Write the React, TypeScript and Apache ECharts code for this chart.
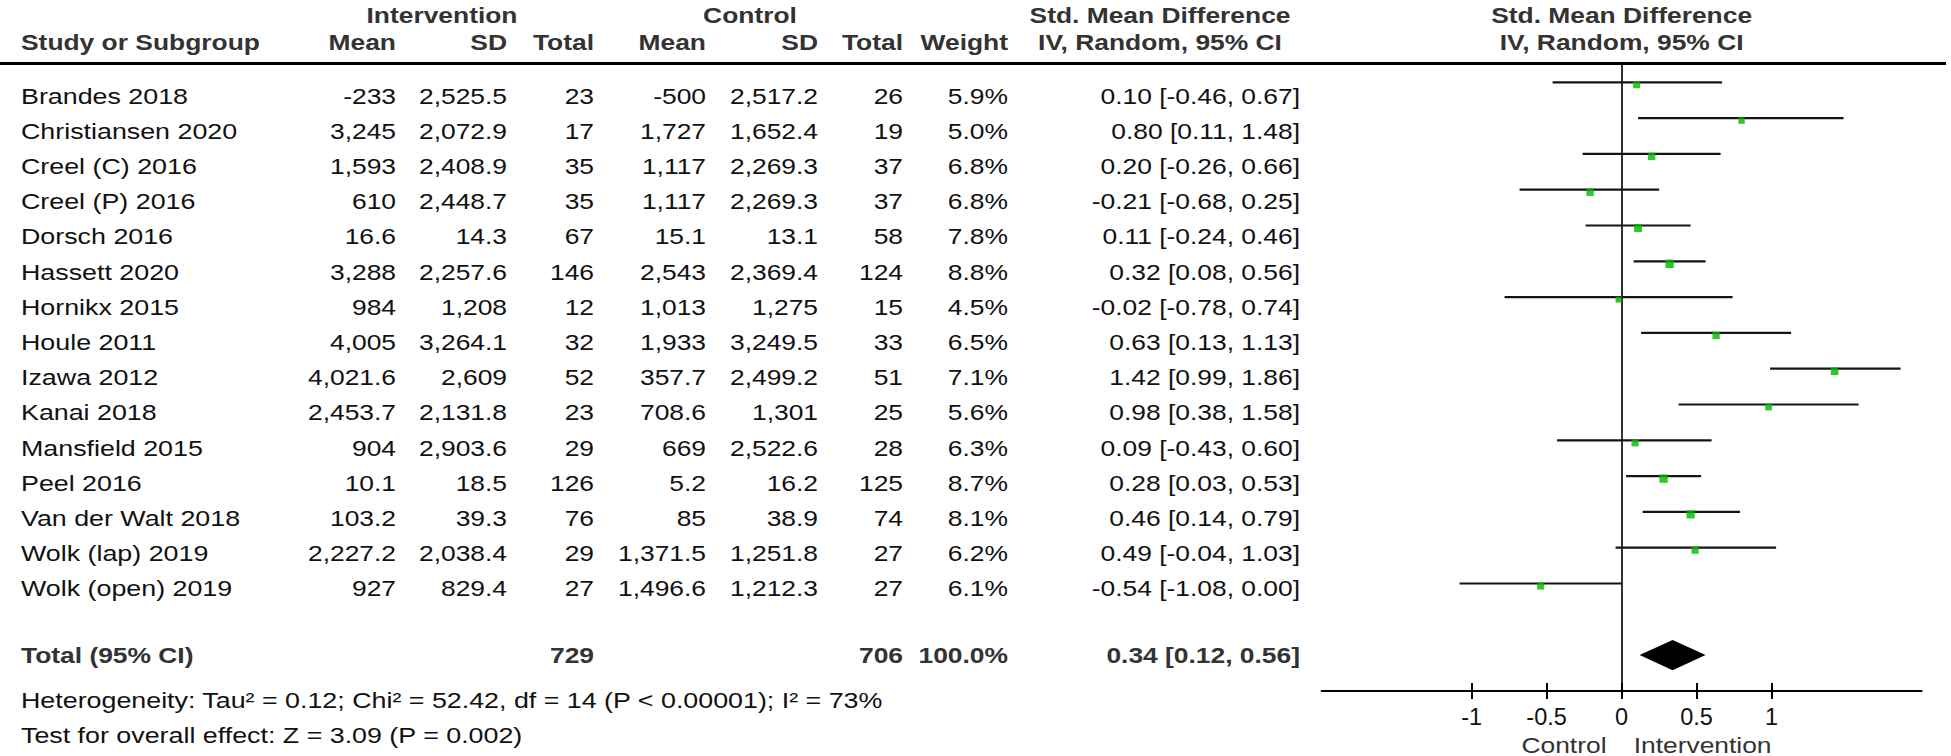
import React, { useEffect, useRef } from "react";
import * as echarts from "echarts";

// ---------- data ----------
const studies = [
  "Brandes 2018", "Christiansen 2020", "Creel (C) 2016", "Creel (P) 2016", "Dorsch 2016",
  "Hassett 2020", "Hornikx 2015", "Houle 2011", "Izawa 2012", "Kanai 2018",
  "Mansfield 2015", "Peel 2016", "Van der Walt 2018", "Wolk (lap) 2019", "Wolk (open) 2019",
];
const intMean = [-233, 3245, 1593, 610, 16.6, 3288, 984, 4005, 4021.6, 2453.7, 904, 10.1, 103.2, 2227.2, 927];
const intSD = [2525.5, 2072.9, 2408.9, 2448.7, 14.3, 2257.6, 1208, 3264.1, 2609, 2131.8, 2903.6, 18.5, 39.3, 2038.4, 829.4];
const intTotal = [23, 17, 35, 35, 67, 146, 12, 32, 52, 23, 29, 126, 76, 29, 27];
const ctlMean = [-500, 1727, 1117, 1117, 15.1, 2543, 1013, 1933, 357.7, 708.6, 669, 5.2, 85, 1371.5, 1496.6];
const ctlSD = [2517.2, 1652.4, 2269.3, 2269.3, 13.1, 2369.4, 1275, 3249.5, 2499.2, 1301, 2522.6, 16.2, 38.9, 1251.8, 1212.3];
const ctlTotal = [26, 19, 37, 37, 58, 124, 15, 33, 51, 25, 28, 125, 74, 27, 27];
const weights = [5.9, 5.0, 6.8, 6.8, 7.8, 8.8, 4.5, 6.5, 7.1, 5.6, 6.3, 8.7, 8.1, 6.2, 6.1];
const smd = [0.10, 0.80, 0.20, -0.21, 0.11, 0.32, -0.02, 0.63, 1.42, 0.98, 0.09, 0.28, 0.46, 0.49, -0.54];
const ciLow = [-0.46, 0.11, -0.26, -0.68, -0.24, 0.08, -0.78, 0.13, 0.99, 0.38, -0.43, 0.03, 0.14, -0.04, -1.08];
const ciHigh = [0.67, 1.48, 0.66, 0.25, 0.46, 0.56, 0.74, 1.13, 1.86, 1.58, 0.60, 0.53, 0.79, 1.03, 0.00];

const totalInt = 729;
const totalCtl = 706;
const totalWeight = 100.0;
const pooled = [0.12, 0.34, 0.56]; // low, estimate, high
const pooledRow = 16;

const tickValues = [-1, -0.5, 0, 0.5, 1];
const heterogeneityText = "Heterogeneity: Tau\u00b2 = 0.12; Chi\u00b2 = 52.42, df = 14 (P < 0.00001); I\u00b2 = 73%";
const overallText = "Test for overall effect: Z = 3.09 (P = 0.002)";

// ---------- helpers ----------
const FONT = '"Liberation Sans", Arial, Helvetica, sans-serif';
const SX = 1.2;
const fmt = (v: number) => v.toLocaleString("en-US", { maximumFractionDigits: 1 });
const ciText = (e: number, l: number, h: number) => `${e.toFixed(2)} [${l.toFixed(2)}, ${h.toFixed(2)}]`;

function txt(text: string, x: number, y: number, align: string, bold = false, color = "#111", sx = SX) {
  return {
    type: "text",
    x,
    y,
    scaleX: sx,
    silent: true,
    z: 10,
    style: {
      text,
      font: `${bold ? "bold " : ""}22px ${FONT}`,
      fill: color,
      textAlign: align,
      textVerticalAlign: "middle",
    },
  };
}

const COL = {
  name: 21,
  iMean: 396,
  iSD: 507,
  iTot: 594,
  cMean: 706,
  cSD: 818,
  cTot: 903,
  weight: 1008,
  ci: 1300,
  ciHead: 1160,
};

export default function App() {
  const ref = useRef<HTMLDivElement>(null);

  useEffect(() => {
    if (!ref.current) return;
    const chart = echarts.init(ref.current, null, { renderer: "svg" });

    const HEAD = "#333";
    const rowY = (i: number) => 96 + 35.2 * i;

    const els: any[] = [];
    // header rule
    els.push({
      type: "rect",
      z: 20,
      x: 0,
      y: 62,
      shape: { x: 0, y: 0, width: 1946, height: 3 },
      style: { fill: "#000000" },
    });
    // header row 1
    els.push(txt("Intervention", 442, 15, "center", true, HEAD));
    els.push(txt("Control", 750, 15, "center", true, HEAD));
    els.push(txt("Std. Mean Difference", COL.ciHead, 15, "center", true, HEAD));
    els.push(txt("Std. Mean Difference", 1621.6, 15, "center", true, HEAD));
    // header row 2
    els.push(txt("Study or Subgroup", COL.name, 42, "left", true, HEAD));
    els.push(txt("Mean", COL.iMean, 42, "right", true, HEAD));
    els.push(txt("SD", COL.iSD, 42, "right", true, HEAD));
    els.push(txt("Total", COL.iTot, 42, "right", true, HEAD));
    els.push(txt("Mean", COL.cMean, 42, "right", true, HEAD));
    els.push(txt("SD", COL.cSD, 42, "right", true, HEAD));
    els.push(txt("Total", COL.cTot, 42, "right", true, HEAD));
    els.push(txt("Weight", COL.weight, 42, "right", true, HEAD));
    els.push(txt("IV, Random, 95% CI", COL.ciHead, 42, "center", true, HEAD));
    els.push(txt("IV, Random, 95% CI", 1621.6, 42, "center", true, HEAD));

    studies.forEach((s, i) => {
      const y = rowY(i);
      els.push(txt(s, COL.name, y, "left", false, "#111", 1.22));
      els.push(txt(fmt(intMean[i]), COL.iMean, y, "right"));
      els.push(txt(fmt(intSD[i]), COL.iSD, y, "right"));
      els.push(txt(String(intTotal[i]), COL.iTot, y, "right"));
      els.push(txt(fmt(ctlMean[i]), COL.cMean, y, "right"));
      els.push(txt(fmt(ctlSD[i]), COL.cSD, y, "right"));
      els.push(txt(String(ctlTotal[i]), COL.cTot, y, "right"));
      els.push(txt(weights[i].toFixed(1) + "%", COL.weight, y, "right"));
      els.push(txt(ciText(smd[i], ciLow[i], ciHigh[i]), COL.ci, y, "right"));
    });

    const ty = 655;
    els.push(txt("Total (95% CI)", COL.name, ty, "left", true, HEAD));
    els.push(txt(String(totalInt), COL.iTot, ty, "right", true, HEAD));
    els.push(txt(String(totalCtl), COL.cTot, ty, "right", true, HEAD));
    els.push(txt(totalWeight.toFixed(1) + "%", COL.weight, ty, "right", true, HEAD));
    els.push(txt(ciText(pooled[1], pooled[0], pooled[2]), COL.ci, ty, "right", true, HEAD));
    els.push(txt(heterogeneityText, COL.name, 700, "left", false, "#111", 1.22));
    els.push(txt(overallText, COL.name, 735, "left", false, "#111", 1.22));

    els.push(txt("Control", 1564, 745, "center", false, HEAD));
    els.push(txt("Intervention", 1702.6, 745, "center", false, HEAD));

    const option: any = {
      animation: false,
      backgroundColor: "#ffffff",
      grid: [
        { left: 1321.6, width: 600, top: 64.4, height: 626.5, containLabel: false },
      ],
      xAxis: [
        {
          type: "value",
          gridIndex: 0,
          min: -2,
          max: 2,
          position: "bottom",
          axisLine: { show: true, onZero: false, lineStyle: { color: "#000", width: 2 } },
          axisTick: { show: true, customValues: tickValues, length: 8, lineStyle: { color: "#000", width: 2 } },
          axisLabel: {
            show: true,
            customValues: tickValues,
            fontSize: 23.5,
            fontFamily: FONT,
            color: "#111",
            margin: 14,
          },
          splitLine: { show: false },
        },
        {
          type: "value",
          gridIndex: 0,
          min: -2,
          max: 2,
          position: "bottom",
          axisLine: { show: false, onZero: false },
          axisTick: { show: true, inside: true, customValues: tickValues, length: 8, lineStyle: { color: "#000", width: 2 } },
          axisLabel: { show: false },
          splitLine: { show: false },
        },
      ],
      yAxis: [
        {
          type: "value",
          gridIndex: 0,
          inverse: true,
          min: -0.5,
          max: 17,
          axisLine: { show: true, onZero: true, onZeroAxisIndex: 0, lineStyle: { color: "#333", width: 2 } },
          axisTick: { show: false },
          axisLabel: { show: false },
          splitLine: { show: false },
        },
      ],
      series: [
        {
          type: "custom",
          name: "CI",
          renderItem: (params: any, api: any) => {
            const s = api.coord([api.value(0), api.value(2)]);
            const e = api.coord([api.value(1), api.value(2)]);
            return {
              type: "line",
              shape: { x1: s[0], y1: s[1], x2: e[0], y2: e[1] },
              style: { stroke: "#151515", lineWidth: 2.2 },
            };
          },
          encode: { x: [0, 1], y: 2 },
          data: studies.map((_, i) => [ciLow[i], ciHigh[i], i]),
          z: 2,
        },
        {
          type: "scatter",
          name: "SMD",
          symbol: "rect",
          symbolSize: (v: number[]) => 2.85 * Math.sqrt(v[2]),
          symbolOffset: [0, 2.5],
          itemStyle: { color: "#00b800" },
          data: studies.map((_, i) => [smd[i], i, weights[i]]),
          z: 3,
        },
        {
          type: "custom",
          name: "Pooled",
          renderItem: (params: any, api: any) => {
            const r = api.value(3);
            const a = api.coord([api.value(0), r]);
            const b = api.coord([api.value(1), r - 0.42]);
            const c = api.coord([api.value(2), r]);
            const d = api.coord([api.value(1), r + 0.42]);
            return {
              type: "polygon",
              shape: { points: [a, b, c, d] },
              style: { fill: "#000" },
            };
          },
          encode: { x: [0, 1, 2], y: 3 },
          data: [[pooled[0], pooled[1], pooled[2], pooledRow]],
          z: 3,
        },
      ],
      graphic: { elements: els },
    };

    chart.setOption(option);
    return () => chart.dispose();
  }, []);

  return (
    <div
      ref={ref}
      style={{ position: "absolute", left: 0, top: 0, width: "1951px", height: "756px", background: "#fff" }}
    />
  );
}
